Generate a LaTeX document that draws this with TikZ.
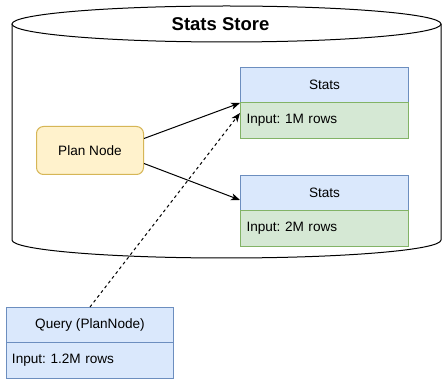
\documentclass[tikz,border=0pt]{standalone}
\usepackage{fontspec}
\setmainfont{Liberation Sans}
\frenchspacing
\usetikzlibrary{arrows.meta}
\definecolor{bfill}{HTML}{DAE8FC}
\definecolor{bdraw}{HTML}{6C8EBF}
\definecolor{gfill}{HTML}{D5E8D4}
\definecolor{gdraw}{HTML}{82B366}
\definecolor{yfill}{HTML}{FFF2CC}
\definecolor{ydraw}{HTML}{D6B656}
\begin{document}
\begin{tikzpicture}[x=1pt,y=-1pt,
  every node/.style={font=\fontsize{13.6}{15}\selectfont, inner sep=0pt},
  head/.style={draw=bdraw, fill=bfill, line width=1pt, minimum width=168pt, minimum height=35pt, anchor=north west},
  bodyg/.style={draw=gdraw, fill=gfill, line width=1pt, minimum width=168pt, minimum height=36pt, anchor=north west, text width=156pt, align=left},
  bodyb/.style={draw=bdraw, fill=bfill, line width=1pt, minimum width=167pt, minimum height=36pt, anchor=north west, text width=156pt, align=left},
  arr/.style={line width=1pt, -{Stealth[length=9pt,width=7pt,inset=2.5pt]}},
  store/.style={line width=1pt, draw=black}]
\useasboundingbox (0,0) rectangle (442,379);
% cylinder
\draw[store, fill=white] (12,24) -- (12,240) arc[start angle=180, end angle=0, x radius=214.5, y radius=18] -- (441,24);
\draw[store, fill=white] (226.5,24) ellipse[x radius=214.5, y radius=18];
\node[font=\bfseries\fontsize{18.5}{20}\selectfont] (title) at (220.5,24) {Stats Store};
% stats boxes
\node[head] (s1h) at (240,67) {Stats};
\node[bodyg] (s1b) at (240,102) {Input: 1M rows};
\node[head] (s2h) at (240,175) {Stats};
\node[bodyg] (s2b) at (240,210) {Input: 2M rows};
% plan node
\node[draw=ydraw, fill=yfill, line width=1pt, rounded corners=7pt, minimum width=107pt, minimum height=48pt, anchor=north west] (pn) at (36,126) {Plan Node};
% query
\node[head, minimum width=167pt] (qh) at (6,307) {Query (PlanNode)};
\node[bodyb] (qb) at (6,342) {Input: 1.2M rows};
% connectors
\coordinate (e2) at ([yshift=-7pt]s2h.west);
\coordinate (qs) at (90,307);
\coordinate (de) at ([yshift=-11pt]s1b.north west);
\draw[arr] ([yshift=12pt]pn.east) -- (s1h.south west);
\draw[arr] ([yshift=-13pt]pn.east) -- (e2);
\draw[arr, dash pattern=on 3pt off 3pt] (qs) -- (de);
\end{tikzpicture}
\end{document}
